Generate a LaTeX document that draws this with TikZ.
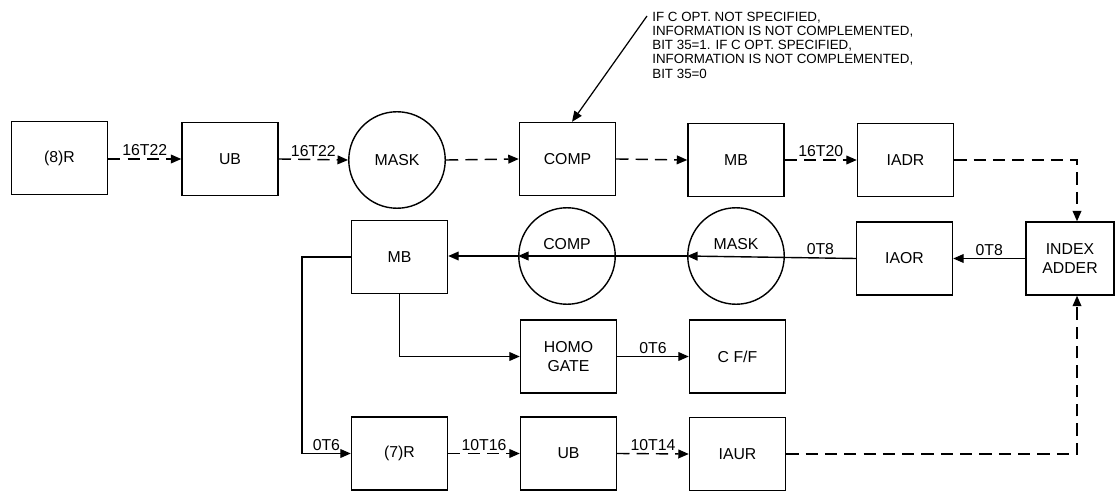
\documentclass[tikz,border=0pt]{standalone}
\usepackage{fontspec}
\setmainfont{Liberation Sans}
\usetikzlibrary{arrows.meta,calc}
\begin{document}
\begin{tikzpicture}[x=0.02cm,y=-0.02cm,
  blk/.style={draw, line width=0.8pt, minimum width=1.92cm, minimum height=1.46cm, inner sep=1pt, align=center, font=\fontsize{9}{10.5}\selectfont},
  circ/.style={draw, circle, line width=0.8pt, minimum size=1.93cm, inner sep=0pt, font=\fontsize{9}{10.5}\selectfont},
  sig/.style={line width=0.8pt, -{Triangle[length=6pt,width=5pt]}},
  dsh/.style={sig, dash pattern=on 7pt off 4pt},
  lbl/.style={font=\fontsize{9}{9}\selectfont, inner sep=1.5pt}
]
\useasboundingbox (0,0) rectangle (1115,493);

% top row
\node[blk] (r8) at (59.5,158) {(8)R};
\node[blk] (ub1) at (230,159) {UB};
\node[circ] (mask1) at (397,160) {MASK};
\node[blk] (comp1) at (567.5,159) {COMP};
\node[blk] (mb1) at (736,160) {MB};
\node[blk] (iadr) at (905.5,160) {IADR};
\node[blk, minimum width=1.76cm] (ia) at (1070,258.5) {INDEX\\ADDER};

% middle row
\node[blk] (mb2) at (399.5,257) {MB};
\node[circ, label={[font=\fontsize{9}{9}\selectfont, yshift=0.24cm]center:COMP}] (comp2) at (567,256) {};
\node[circ, label={[font=\fontsize{9}{9}\selectfont, yshift=0.24cm]center:MASK}] (mask2) at (736,256) {};
\node[blk] (iaor) at (904.5,258.5) {IAOR};

% third row
\node[blk] (homo) at (568.5,356.5) {HOMO\\GATE};
\node[blk] (cff) at (737.5,356.5) {C F/F};

% bottom row
\node[blk] (r7) at (399.5,453.5) {(7)R};
\node[blk] (ub2) at (568.5,453.5) {UB};
\node[blk] (iaur) at (737.5,454) {IAUR};

% annotation
\node[anchor=north west, inner sep=0pt, align=left, font=\fontsize{7.6}{8.1}\selectfont] (note) at (652,11.5)
 {IF C OPT. NOT SPECIFIED,\\INFORMATION IS NOT COMPLEMENTED,\\BIT 35=1. IF C OPT. SPECIFIED,\\INFORMATION IS NOT COMPLEMENTED,\\BIT 35=0};
\coordinate (nstart) at (647,16);
\draw[sig, line width=0.7pt] (nstart) -- ([xshift=0.09cm]comp1.north);

% top row connectors
\draw[dsh] (r8.east |- ub1.west) -- node[lbl, above] {16T22} (ub1.west);
\draw[dsh] (ub1.east) -- node[lbl, above] {16T22} (mask1.west);
\draw[dsh] (mask1.east) -- (comp1.west);
\draw[dsh] (comp1.east) -- (mb1.west);
\draw[dsh] (mb1.east) -- node[lbl, above] {16T20} (iadr.west);
\draw[dsh] (iadr.east) -| ([xshift=0.14cm]ia.north);

% middle row connectors
\draw[sig] (ia.west) -- node[lbl, above] {0T8} (iaor.west -| iaor.east);
\draw[sig] (iaor.west) -- (mask2.west);
\node[lbl, above] at ($(mask2.east)!0.5!(iaor.west)$) {0T8};
\draw[sig] (mask2.west) -- (comp2.west);
\draw[sig] (comp2.west) -- (mb2.east |- comp2.west);
\coordinate (lft) at (302,257);
\draw[sig] (mb2.west |- lft) -- (lft) |- node[lbl, above, pos=0.75] {0T6} (r7.west);
\draw[sig] (mb2.south) |- (homo.west);
\draw[sig] (homo.east) -- node[lbl, above] {0T6} (cff.west);

% bottom row connectors
\draw[dsh] (r7.east) -- node[lbl, above] {10T16} (ub2.west);
\draw[dsh] (ub2.east) -- node[lbl, above] {10T14} (iaur.west);
\draw[dsh] (iaur.east) -| ([xshift=0.14cm]ia.south);
\end{tikzpicture}
\end{document}
